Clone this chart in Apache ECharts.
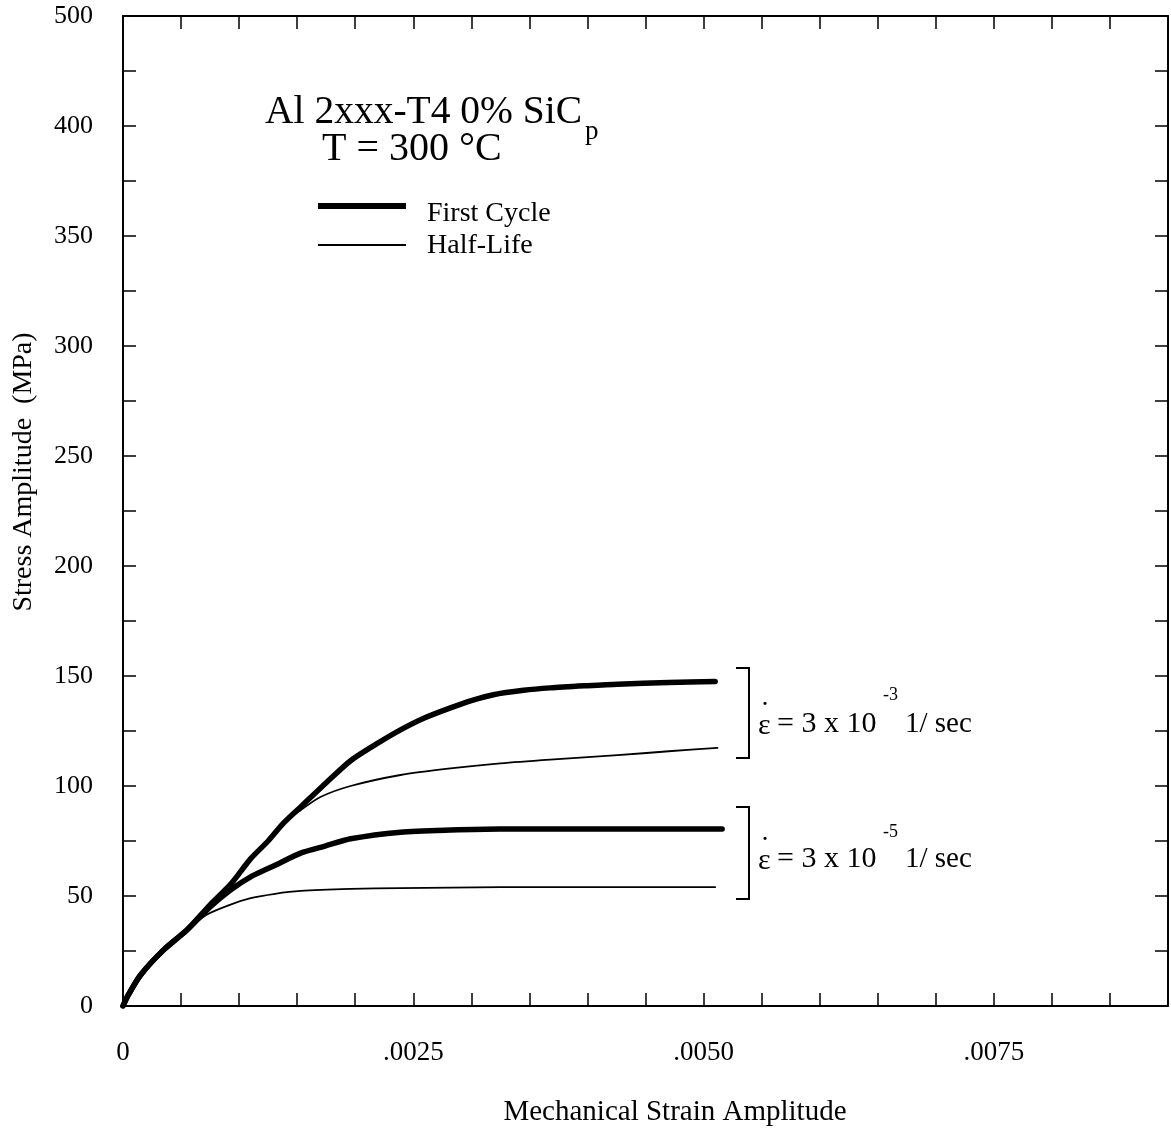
<!DOCTYPE html>
<html><head><meta charset="utf-8">
<script src="https://cdn.jsdelivr.net/npm/echarts@6/dist/echarts.min.js"></script>
<style>html,body{margin:0;padding:0;background:#fff}#c{width:1171px;height:1132px}</style>
</head><body><div id="c"></div>
<script>
const FONT = "'Liberation Serif', 'DejaVu Serif', serif";

// Tick labels
const xTickValues = [0, 0.0025, 0.005, 0.0075];
const xTickLabels = ['0', '.0025', '.0050', '.0075'];
const yTickValues = [0, 50, 100, 150, 200, 250, 300, 350, 400, 450];
const yTickLabels = ['0', '50', '100', '150', '200', '250', '300', '350', '400', '500'];

// First Cycle, strain rate 3e-3 1/sec
const strainFirstHigh = [0, 0.00004, 0.00015, 0.00035, 0.00055, 0.00075, 0.00093, 0.0011, 0.00125, 0.00138, 0.00153, 0.00175, 0.00196, 0.00218, 0.00239, 0.0026, 0.00282, 0.003, 0.00319, 0.00345, 0.00368, 0.004, 0.00426, 0.0047, 0.0051];
const stressFirstHigh = [0, 4.5, 14, 25.5, 34.5, 46, 55.5, 67, 75, 83, 90.5, 101.5, 111.5, 119, 125.5, 131, 135.5, 138.8, 141.5, 143.5, 144.6, 145.6, 146.3, 147, 147.5];

// Half-Life, strain rate 3e-3 1/sec
const strainHalfHigh = [0, 0.00004, 0.00015, 0.00035, 0.00055, 0.00075, 0.00093, 0.0011, 0.00125, 0.00138, 0.00153, 0.0017, 0.00196, 0.00239, 0.00282, 0.00325, 0.00368, 0.00426, 0.0047, 0.00512];
const stressHalfHigh = [0, 4.5, 14, 25.5, 34.5, 46, 55.5, 67, 75, 83, 89, 95, 100, 105, 108, 110.3, 112, 114, 115.8, 117.3];

// First Cycle, strain rate 3e-5 1/sec
const strainFirstLow = [0, 0.00004, 0.00015, 0.00035, 0.00055, 0.00075, 0.00092, 0.00111, 0.00131, 0.00153, 0.00174, 0.00196, 0.00239, 0.00282, 0.00325, 0.0041, 0.00516];
const stressFirstLow = [0, 4.5, 14, 25.5, 34.5, 45, 52.5, 59, 64, 69.5, 72.7, 76, 79, 80, 80.5, 80.5, 80.5];

// Half-Life, strain rate 3e-5 1/sec
const strainHalfLow = [0, 0.00004, 0.00015, 0.00035, 0.00055, 0.00072, 0.00092, 0.0011, 0.00131, 0.00153, 0.00196, 0.00239, 0.00325, 0.0051];
const stressHalfLow = [0, 4.5, 14, 25.5, 34.5, 41.5, 46, 49, 51, 52.3, 53.2, 53.6, 54, 54];

function zip(a, b) { return a.map((v, i) => [v, b[i]]); }
function lookup(vals, labels, v) {
  for (let i = 0; i < vals.length; i++) if (Math.abs(vals[i] - v) < 1e-7) return labels[i];
  return '';
}

const chart = echarts.init(document.getElementById('c'), null, {renderer: 'canvas'});

const axisLine = {show: true, onZero: false, lineStyle: {color: '#000', width: 2}};
const tick = {show: true, inside: true, length: 13, lineStyle: {color: '#000', width: 1.5}};

function lineSeries(name, xs, ys, w) {
  return {
    name: name, type: 'line', data: zip(xs, ys), showSymbol: false, symbol: 'none',
    smooth: 0.25,
    lineStyle: {color: '#000', width: w, cap: 'round', join: 'round'},
    xAxisIndex: 0, yAxisIndex: 0, silent: true, animation: false
  };
}

function txt(s, x, y, size, align) {
  return {type: 'text', x: x, y: y, style: {text: s, font: size + "px " + FONT, fill: '#000', align: align || 'left', verticalAlign: 'middle'}};
}

const option = {
  animation: false,
  backgroundColor: '#fff',
  grid: {left: 123, top: 16, width: 1047, height: 990, containLabel: false},
  xAxis: [
    {type: 'value', position: 'bottom', min: 0, max: 0.009, interval: 0.0005,
     axisLine: axisLine, axisTick: tick, splitLine: {show: false},
     axisLabel: {margin: 33, color: '#000', fontFamily: FONT, fontSize: 27, formatter: v => lookup(xTickValues, xTickLabels, v), showMaxLabel: true}},
    {type: 'value', position: 'top', min: 0, max: 0.009, interval: 0.0005,
     axisLine: axisLine, axisTick: tick, splitLine: {show: false}, axisLabel: {show: false}}
  ],
  yAxis: [
    {type: 'value', position: 'left', min: 0, max: 450, interval: 25,
     axisLine: axisLine, axisTick: tick, splitLine: {show: false},
     axisLabel: {margin: 30, color: '#000', fontFamily: FONT, fontSize: 26, formatter: v => lookup(yTickValues, yTickLabels, v), showMaxLabel: true}},
    {type: 'value', position: 'right', min: 0, max: 450, interval: 25,
     axisLine: axisLine, axisTick: tick, splitLine: {show: false}, axisLabel: {show: false}}
  ],
  series: [
    lineSeries('First Cycle 3e-3', strainFirstHigh, stressFirstHigh, 5.5),
    lineSeries('Half-Life 3e-3', strainHalfHigh, stressHalfHigh, 1.8),
    lineSeries('First Cycle 3e-5', strainFirstLow, stressFirstLow, 5.5),
    lineSeries('Half-Life 3e-5', strainHalfLow, stressHalfLow, 1.8)
  ],
  graphic: [
    // title
    txt('Al 2xxx-T4 0% SiC', 265, 113, 39.5),
    txt('p', 585, 132, 27),
    txt('T = 300 \u00B0C', 322, 149, 40),
    // legend
    {type: 'line', shape: {x1: 318, y1: 206, x2: 406, y2: 206}, style: {stroke: '#000', lineWidth: 6}},
    txt('First Cycle', 427, 214, 28),
    {type: 'line', shape: {x1: 318, y1: 245, x2: 406, y2: 245}, style: {stroke: '#000', lineWidth: 1.8}},
    txt('Half-Life', 427, 246, 28),
    // brackets
    {type: 'polyline', shape: {points: [[736, 668], [749, 668], [749, 758], [736, 758]]}, style: {stroke: '#000', lineWidth: 2, fill: null}},
    {type: 'polyline', shape: {points: [[736, 807], [749, 807], [749, 899], [736, 899]]}, style: {stroke: '#000', lineWidth: 2, fill: null}},
    // strain-rate annotations
    txt('\u03B5', 758, 726, 30),
    txt('\u02D9', 765, 714, 30, 'center'),
    txt('= 3 x 10', 777, 724, 30),
    txt('-3', 883, 695, 18),
    txt('1/ sec', 905, 724, 29),
    txt('\u03B5', 758, 861, 30),
    txt('\u02D9', 765, 849, 30, 'center'),
    txt('= 3 x 10', 777, 859, 30),
    txt('-5', 883, 832, 18),
    txt('1/ sec', 905, 859, 29),
    // axis titles
    txt('Mechanical Strain Amplitude', 675, 1112, 29, 'center'),
    {type: 'text', x: 24, y: 472, rotation: Math.PI / 2, style: {text: 'Stress Amplitude  (MPa)', font: "28px " + FONT, fill: '#000', align: 'center', verticalAlign: 'middle'}}
  ]
};
chart.setOption(option);
</script>
</body></html>
